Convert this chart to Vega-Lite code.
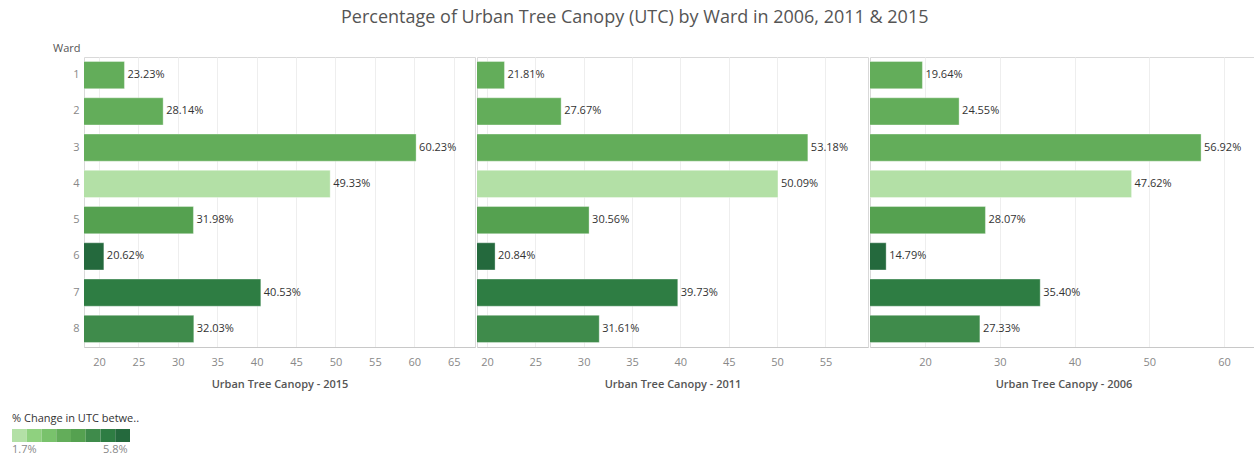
{
  "$schema": "https://vega.github.io/schema/vega-lite/v6.json",
  "autosize": {"type": "pad"},
  "padding": {"left": 12, "top": 8, "right": 0, "bottom": 2},
  "background": "white",
  "title": {"text": "Percentage of Urban Tree Canopy (UTC) by Ward in 2006, 2011 & 2015", "fontSize": 18, "font": "Open Sans", "fontWeight": "normal", "color": "#555555", "anchor": "middle", "offset": 15},
  "config": {
    "font": "Open Sans",
    "view": {"stroke": "#d9d9d9"},
    "concat": {"spacing": 0},
    "legend": {"gradientHorizontalMaxLength": 118, "gradientHorizontalMinLength": 118, "gradientLength": 118, "gradientThickness": 13},
    "axisX": {"labelColor": "#888888", "labelFontSize": 11, "ticks": false, "domainColor": "#c8c8c8", "gridColor": "#eeeeee", "labelPadding": 9, "titlePadding": 11, "titleFontSize": 11, "titleFontWeight": 600, "titleColor": "#555555"}
  },
  "data": {"values": [
    {"Ward": 1, "Year": 2015, "UTC": 23.23, "Change": 3.59},
    {"Ward": 2, "Year": 2015, "UTC": 28.14, "Change": 3.59},
    {"Ward": 3, "Year": 2015, "UTC": 60.23, "Change": 3.31},
    {"Ward": 4, "Year": 2015, "UTC": 49.33, "Change": 1.71},
    {"Ward": 5, "Year": 2015, "UTC": 31.98, "Change": 3.91},
    {"Ward": 6, "Year": 2015, "UTC": 20.62, "Change": 5.83},
    {"Ward": 7, "Year": 2015, "UTC": 40.53, "Change": 5.13},
    {"Ward": 8, "Year": 2015, "UTC": 32.03, "Change": 4.70},
    {"Ward": 1, "Year": 2011, "UTC": 21.81, "Change": 3.59},
    {"Ward": 2, "Year": 2011, "UTC": 27.67, "Change": 3.59},
    {"Ward": 3, "Year": 2011, "UTC": 53.18, "Change": 3.31},
    {"Ward": 4, "Year": 2011, "UTC": 50.09, "Change": 1.71},
    {"Ward": 5, "Year": 2011, "UTC": 30.56, "Change": 3.91},
    {"Ward": 6, "Year": 2011, "UTC": 20.84, "Change": 5.83},
    {"Ward": 7, "Year": 2011, "UTC": 39.73, "Change": 5.13},
    {"Ward": 8, "Year": 2011, "UTC": 31.61, "Change": 4.70},
    {"Ward": 1, "Year": 2006, "UTC": 19.64, "Change": 3.59},
    {"Ward": 2, "Year": 2006, "UTC": 24.55, "Change": 3.59},
    {"Ward": 3, "Year": 2006, "UTC": 56.92, "Change": 3.31},
    {"Ward": 4, "Year": 2006, "UTC": 47.62, "Change": 1.71},
    {"Ward": 5, "Year": 2006, "UTC": 28.07, "Change": 3.91},
    {"Ward": 6, "Year": 2006, "UTC": 14.79, "Change": 5.83},
    {"Ward": 7, "Year": 2006, "UTC": 35.40, "Change": 5.13},
    {"Ward": 8, "Year": 2006, "UTC": 27.33, "Change": 4.70}
  ]},
  "hconcat": [
    {
      "width": 391, "height": 290,
      "transform": [{"filter": "datum.Year == 2015"}],
      "encoding": {
        "y": {"field": "Ward", "type": "ordinal", "scale": {"paddingInner": 0.25, "paddingOuter": 0.125},
          "axis": {"title": "Ward", "titleAngle": 0, "titleAlign": "right", "titleBaseline": "bottom", "titleX": -4, "titleY": -4, "titleFontWeight": "normal", "titleColor": "#555555", "titleFontSize": 11, "labelColor": "#888888", "labelFontSize": 11, "ticks": false, "domain": false, "labelPadding": 5, "grid": false}}
      },
      "layer": [
        {"mark": {"type": "bar", "clip": true, "stroke": "white", "strokeOpacity": 0.35, "strokeWidth": 1},
         "encoding": {
           "x": {"field": "UTC", "type": "quantitative", "scale": {"domain": [18.1, 67.7], "zero": false, "nice": false},
             "axis": {"values": [20, 25, 30, 35, 40, 45, 50, 55, 60, 65], "title": "Urban Tree Canopy - 2015"}},
           "color": {"field": "Change", "type": "quantitative",
             "scale": {"type": "quantize", "domain": [1.71, 5.83], "range": ["#b3e0a6", "#8fd17f", "#79c26c", "#63ad5a", "#55a150", "#3f8b4b", "#2e7d43", "#24693d"]},
             "legend": {"type": "gradient", "orient": "none", "legendX": -72, "legendY": 356, "direction": "horizontal", "title": "% Change in UTC betwe..", "gradientLength": 118, "gradientThickness": 13, "gradientStrokeWidth": 0, "titleFontSize": 11, "titleFontWeight": "normal", "titleColor": "#333333", "labelColor": "#888888", "labelFontSize": 11, "labelExpr": "datum.value < 1.8 ? '1.7%' : (datum.value > 5.2 ? '5.8%' : '')"}}
         }},
        {"mark": {"type": "text", "align": "left", "baseline": "middle", "dx": 3, "fontSize": 11, "color": "#333333", "text": {"expr": "format(datum.UTC, '.2f') + '%'"}},
         "encoding": {"x": {"field": "UTC", "type": "quantitative"}}}
      ]
    },
    {
      "width": 391, "height": 290,
      "transform": [{"filter": "datum.Year == 2011"}],
      "encoding": {
        "y": {"field": "Ward", "type": "ordinal", "scale": {"paddingInner": 0.25, "paddingOuter": 0.125}, "axis": null}
      },
      "layer": [
        {"mark": {"type": "bar", "clip": true, "stroke": "white", "strokeOpacity": 0.35, "strokeWidth": 1},
         "encoding": {
           "x": {"field": "UTC", "type": "quantitative", "scale": {"domain": [18.97, 59.4], "zero": false, "nice": false},
             "axis": {"values": [20, 25, 30, 35, 40, 45, 50, 55], "title": "Urban Tree Canopy - 2011"}},
           "color": {"field": "Change", "type": "quantitative",
             "scale": {"type": "quantize", "domain": [1.71, 5.83], "range": ["#b3e0a6", "#8fd17f", "#79c26c", "#63ad5a", "#55a150", "#3f8b4b", "#2e7d43", "#24693d"]},
             "legend": {"type": "gradient", "orient": "none", "legendX": -72, "legendY": 356, "direction": "horizontal", "title": "% Change in UTC betwe..", "gradientLength": 118, "gradientThickness": 13, "gradientStrokeWidth": 0, "titleFontSize": 11, "titleFontWeight": "normal", "titleColor": "#333333", "labelColor": "#888888", "labelFontSize": 11, "labelExpr": "datum.value < 1.8 ? '1.7%' : (datum.value > 5.2 ? '5.8%' : '')"}}
         }},
        {"mark": {"type": "text", "align": "left", "baseline": "middle", "dx": 3, "fontSize": 11, "color": "#333333", "text": {"expr": "format(datum.UTC, '.2f') + '%'"}},
         "encoding": {"x": {"field": "UTC", "type": "quantitative"}}}
      ]
    },
    {
      "width": 387, "height": 290,
      "transform": [{"filter": "datum.Year == 2006"}],
      "encoding": {
        "y": {"field": "Ward", "type": "ordinal", "scale": {"paddingInner": 0.25, "paddingOuter": 0.125}, "axis": null}
      },
      "layer": [
        {"mark": {"type": "bar", "clip": true, "stroke": "white", "strokeOpacity": 0.35, "strokeWidth": 1},
         "encoding": {
           "x": {"field": "UTC", "type": "quantitative", "scale": {"domain": [12.63, 64.4], "zero": false, "nice": false},
             "axis": {"values": [20, 30, 40, 50, 60], "title": "Urban Tree Canopy - 2006"}},
           "color": {"field": "Change", "type": "quantitative",
             "scale": {"type": "quantize", "domain": [1.71, 5.83], "range": ["#b3e0a6", "#8fd17f", "#79c26c", "#63ad5a", "#55a150", "#3f8b4b", "#2e7d43", "#24693d"]},
             "legend": {"type": "gradient", "orient": "none", "legendX": -72, "legendY": 356, "direction": "horizontal", "title": "% Change in UTC betwe..", "gradientLength": 118, "gradientThickness": 13, "gradientStrokeWidth": 0, "titleFontSize": 11, "titleFontWeight": "normal", "titleColor": "#333333", "labelColor": "#888888", "labelFontSize": 11, "labelExpr": "datum.value < 1.8 ? '1.7%' : (datum.value > 5.2 ? '5.8%' : '')"}}
         }},
        {"mark": {"type": "text", "align": "left", "baseline": "middle", "dx": 3, "fontSize": 11, "color": "#333333", "text": {"expr": "format(datum.UTC, '.2f') + '%'"}},
         "encoding": {"x": {"field": "UTC", "type": "quantitative"}}}
      ]
    }
  ],
  "resolve": {"scale": {"x": "independent", "color": "shared"}, "legend": {"color": "shared"}}
}
